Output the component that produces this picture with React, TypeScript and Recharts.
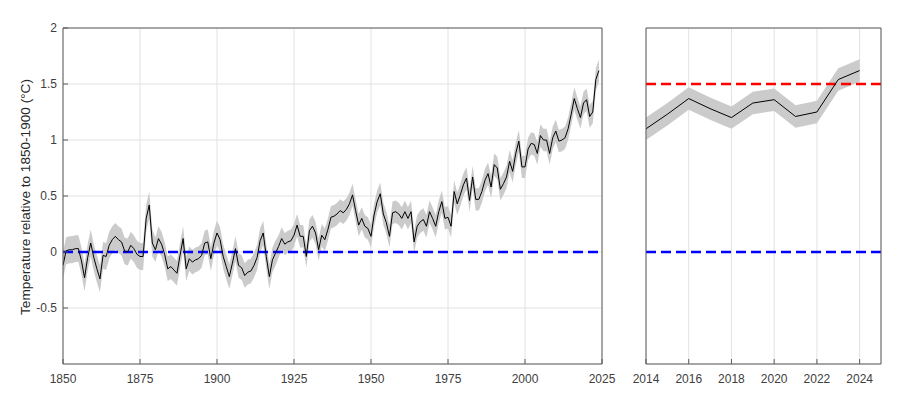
import React from 'react';
import { ComposedChart, Line, Area, XAxis, YAxis, CartesianGrid, ReferenceLine } from 'recharts';

// ---- data ----
const startYear = 1850;
const anomalies = [
  -0.12, 0.01, 0.02, 0.02, 0.03, 0.03, -0.08, -0.23, -0.05, 0.08, // 1850-1859
  -0.05, -0.15, -0.24, -0.03, -0.04, 0.06, 0.11, 0.14, 0.11, 0.09, // 1860-1869
  0.01, 0.0, 0.06, 0.03, -0.02, -0.04, -0.04, 0.3, 0.42, 0.08, // 1870-1879
  0.02, 0.12, 0.07, -0.02, -0.15, -0.13, -0.16, -0.19, -0.03, 0.12, // 1880-1889
  -0.15, -0.06, -0.09, -0.07, -0.06, -0.03, 0.08, 0.09, -0.06, 0.08, // 1890-1899
  0.17, 0.11, -0.04, -0.13, -0.22, -0.1, 0.03, -0.12, -0.14, -0.21, // 1900-1909
  -0.18, -0.17, -0.12, -0.05, 0.1, 0.17, -0.04, -0.22, -0.07, -0.01, // 1910-1919
  0.05, 0.12, 0.07, 0.09, 0.1, 0.15, 0.24, 0.14, 0.14, -0.04, // 1920-1929
  0.19, 0.23, 0.17, 0.02, 0.15, 0.11, 0.2, 0.31, 0.32, 0.34, // 1930-1939
  0.37, 0.35, 0.38, 0.43, 0.51, 0.37, 0.24, 0.3, 0.23, 0.21, // 1940-1949
  0.14, 0.33, 0.45, 0.52, 0.34, 0.26, 0.14, 0.35, 0.36, 0.34, // 1950-1959
  0.3, 0.36, 0.3, 0.36, 0.09, 0.23, 0.27, 0.29, 0.23, 0.36, // 1960-1969
  0.3, 0.23, 0.36, 0.45, 0.3, 0.31, 0.23, 0.54, 0.43, 0.51, // 1970-1979
  0.6, 0.66, 0.46, 0.67, 0.47, 0.47, 0.54, 0.64, 0.7, 0.58, // 1980-1989
  0.78, 0.75, 0.56, 0.61, 0.67, 0.81, 0.72, 0.88, 0.99, 0.76, // 1990-1999
  0.76, 0.92, 0.97, 0.96, 0.88, 1.04, 1.0, 1.0, 0.88, 1.02, // 2000-2009
  1.08, 0.99, 1.0, 1.02, 1.1, 1.23, 1.37, 1.28, 1.2, 1.33, // 2010-2019
  1.36, 1.21, 1.25, 1.54, 1.62, // 2020-2024
];
const bandSegments = [
  { from: 1850, to: 1879, halfWidth: 0.12 },
  { from: 1880, to: 1919, halfWidth: 0.11 },
  { from: 1920, to: 2024, halfWidth: 0.1 },
];
const leftXTicks = [1850, 1875, 1900, 1925, 1950, 1975, 2000, 2025];
const rightXTicks = [2014, 2016, 2018, 2020, 2022, 2024];
const yTicks = [-0.5, 0, 0.5, 1, 1.5, 2];
const yDomain: [number, number] = [-1, 2];
const leftXDomain: [number, number] = [1850, 2025];
const rightXDomain: [number, number] = [2014, 2025];
const baselineLevel = 0;
const parisLevel = 1.5;
const yLabel = 'Temperature relative to 1850-1900 (°C)';

const halfWidthFor = (year: number) => {
  const seg = bandSegments.find((s) => year >= s.from && year <= s.to);
  return seg ? seg.halfWidth : 0.1;
};

const leftData = anomalies.map((v, i) => {
  const year = startYear + i;
  const hw = halfWidthFor(year);
  return { year, temp: v, band: [v - hw, v + hw] };
});
const rightData = leftData.filter((d) => d.year >= rightXDomain[0]);

// ---- styles ----
const FONT = '"Liberation Sans", Arial, Helvetica, sans-serif';
const axisStroke = '#5a5a5a';
const gridStroke = '#e2e2e2';
const tickText = { fill: '#404040', fontSize: 12, fontFamily: FONT };
const bandFill = '#cbcbcb';

function Panel(props: {
  data: any[];
  width: number;
  xDomain: [number, number];
  xTicks: number[];
  leftAxisWidth: number;
  showYLabels: boolean;
  rightMargin: number;
  showParis: boolean;
}) {
  const { data, width, xDomain, xTicks, leftAxisWidth, showYLabels, rightMargin, showParis } = props;
  return (
    <ComposedChart
      width={width}
      height={396}
      data={data}
      margin={{ top: 28, right: rightMargin, bottom: 0, left: 0 }}
    >
      <CartesianGrid stroke={gridStroke} strokeWidth={1} />
      <XAxis
        type="number"
        dataKey="year"
        domain={xDomain}
        ticks={xTicks}
        interval={0}
        allowDataOverflow
        height={32}
        tickSize={-5}
        tickMargin={15}
        stroke={axisStroke}
        tick={tickText}
      />
      <YAxis
        type="number"
        domain={yDomain}
        ticks={yTicks}
        interval={0}
        allowDataOverflow
        width={leftAxisWidth}
        tickSize={-5}
        tickMargin={11}
        stroke={axisStroke}
        tick={showYLabels ? tickText : false}
      />
      <Area
        dataKey="band"
        stroke="none"
        fill={bandFill}
        fillOpacity={1}
        isAnimationActive={false}
        activeDot={false}
        dot={false}
      />
      <ReferenceLine y={baselineLevel} stroke="#0000ff" strokeWidth={2.5} strokeDasharray="10 5" />
      {showParis && (
        <ReferenceLine y={parisLevel} stroke="#ff0000" strokeWidth={2.5} strokeDasharray="10 5" />
      )}
      <Line
        dataKey="temp"
        type="linear"
        stroke="#000000"
        strokeWidth={1}
        dot={false}
        activeDot={false}
        isAnimationActive={false}
      />
      {/* box frame: top and right edges */}
      <ReferenceLine y={yDomain[1]} stroke={axisStroke} strokeWidth={1} />
      <ReferenceLine x={xDomain[1]} stroke={axisStroke} strokeWidth={1} />
    </ComposedChart>
  );
}

export default function App() {
  return (
    <div
      style={{
        position: 'absolute',
        left: 0,
        top: 0,
        width: 900,
        height: 396,
        background: '#ffffff',
        fontFamily: FONT,
        overflow: 'hidden',
      }}
    >
      <div style={{ position: 'absolute', left: 0, top: 0 }}>
        <Panel
          data={leftData}
          width={620}
          xDomain={leftXDomain}
          xTicks={leftXTicks}
          leftAxisWidth={63}
          showYLabels={true}
          rightMargin={18}
          showParis={false}
        />
      </div>
      <div style={{ position: 'absolute', left: 620, top: 0 }}>
        <Panel
          data={rightData}
          width={280}
          xDomain={rightXDomain}
          xTicks={rightXTicks}
          leftAxisWidth={26}
          showYLabels={false}
          rightMargin={19}
          showParis={true}
        />
      </div>
      <div
        style={{
          position: 'absolute',
          left: 25,
          top: 197,
          transform: 'translate(-50%, -50%) rotate(-90deg)',
          whiteSpace: 'nowrap',
          fontSize: 13.6,
          color: '#262626',
          fontFamily: FONT,
        }}
      >
        {yLabel}
      </div>
    </div>
  );
}
